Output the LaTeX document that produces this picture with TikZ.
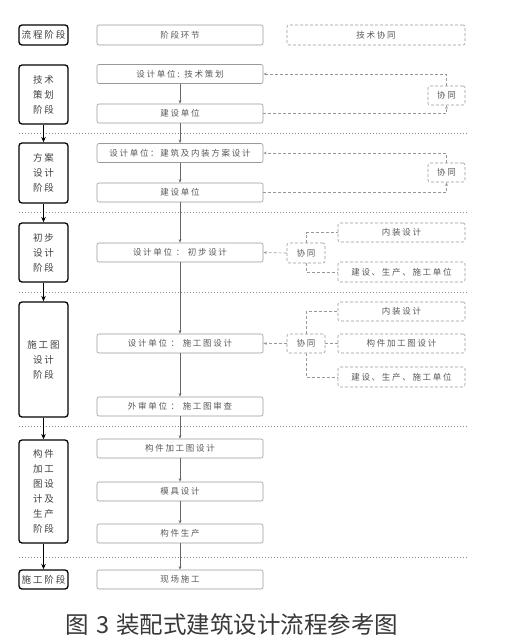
\documentclass[tikz,border=0pt]{standalone}
\usepackage{fontspec}
\newfontfamily\cjk[LetterSpace=20]{Noto Sans CJK SC}
\newfontfamily\cjkcap{Noto Sans CJK SC}
\usetikzlibrary{arrows.meta}
\begin{document}
\begin{tikzpicture}[x=1pt,y=-1pt,
  stagebox/.style={draw=black, line width=1.3pt, rounded corners=3pt, minimum width=49pt, inner sep=0pt, align=center, font=\cjk\fontsize{9.5}{15}\selectfont, text=black!75},
  midbox/.style={draw=black!40, line width=0.6pt, rounded corners=2pt, minimum width=166pt, minimum height=19pt, inner sep=0pt, font=\cjk\fontsize{8.5}{10}\selectfont, text=black!65},
  dbox/.style={midbox, dash pattern=on 3pt off 2pt, minimum width=127pt},
  flow/.style={-{Stealth[length=3.5pt,width=2.6pt]}, draw=black!60, line width=0.6pt},
  stagearrow/.style={-{Stealth[length=5.5pt,width=4.5pt]}, draw=black, line width=1.5pt},
  coop/.style={draw=black!40, line width=0.6pt, dash pattern=on 3pt off 2pt},
  cooparrow/.style={coop, -{Stealth[length=3.5pt,width=2.6pt]}},
  sepline/.style={draw=black!45, line width=0.8pt, dash pattern=on 1.2pt off 1.8pt}
]
\useasboundingbox[fill=white] (0,0) rectangle (521,640);

% header row
\node[stagebox, minimum height=20pt] (h1) at (43.5,35) {流程阶段};
\node[midbox, minimum height=20pt] (h2) at (180,35) {阶段环节};
\node[dbox, minimum width=178pt, minimum height=20pt] (h3) at (376,35) {技术协同};

% stage 1
\node[stagebox, minimum height=59pt] (L1) at (43.5,94.5) {技术\\策划\\阶段};
\node[midbox] (m1a) at (180,74) {设计单位: 技术策划};
\node[midbox] (m1b) at (180,113.5) {建设单位};
\node[dbox, minimum width=37pt] (c1) at (446.5,95.5) {协同};
\coordinate (c1t) at (446.5,74);
\coordinate (c1b) at (446.5,113.5);
\draw[cooparrow] (c1.north) -- (c1t) -- (m1a.east);
\draw[cooparrow] (m1b.east) -- (c1b) -- (c1.south);
\coordinate (s1a) at (19,133); \coordinate (s1b) at (467,133);
\draw[sepline] (s1a) -- (s1b);

% stage 2
\node[stagebox, minimum height=60pt] (L2) at (43.5,173) {方案\\设计\\阶段};
\node[midbox] (m2a) at (180,153) {设计单位：建筑及内装方案设计};
\node[midbox] (m2b) at (180,192.5) {建设单位};
\node[dbox, minimum width=37pt] (c2) at (446.5,172.5) {协同};
\coordinate (c2t) at (446.5,153);
\coordinate (c2b) at (446.5,192.5);
\draw[cooparrow] (c2.north) -- (c2t) -- (m2a.east);
\draw[cooparrow] (m2b.east) -- (c2b) -- (c2.south);
\coordinate (s2a) at (19,212); \coordinate (s2b) at (467,212);
\draw[sepline] (s2a) -- (s2b);

% stage 3
\node[stagebox, minimum height=59pt] (L3) at (43.5,252.5) {初步\\设计\\阶段};
\node[midbox] (m3) at (180,252.5) {设计单位 ： 初步设计};
\node[dbox, minimum width=38pt, minimum height=20pt] (c3) at (306,253) {协同};
\node[dbox] (r3a) at (401.5,232.5) {内装设计};
\node[dbox, minimum height=20pt] (r3b) at (401.5,272) {建设、生产、施工单位};
\draw[cooparrow] (c3.west) -- (m3.east);
\draw[coop] (c3.north) |- (r3a.west);
\draw[coop] (c3.south) |- (r3b.west);
\coordinate (s3a) at (19,292); \coordinate (s3b) at (467,292);
\draw[sepline] (s3a) -- (s3b);

% stage 4
\node[stagebox, minimum height=115pt] (L4) at (43.5,359.5) {施工图\\设计\\阶段};
\node[midbox] (m4a) at (180,343.5) {设计单位 ： 施工图设计};
\node[dbox, minimum width=38pt] (c4) at (306,343.5) {协同};
\node[dbox] (r4a) at (401.5,311.5) {内装设计};
\node[dbox] (r4b) at (401.5,343.5) {构件加工图设计};
\node[dbox, minimum height=20pt] (r4c) at (401.5,377) {建设、生产、施工单位};
\node[midbox] (m4b) at (180,406.5) {外审单位 ： 施工图审查};
\draw[cooparrow] (c4.west) -- (m4a.east);
\draw[coop] (c4.north) |- (r4a.west);
\draw[coop] (c4.east) -- (r4b.west);
\draw[coop] (c4.south) |- (r4c.west);
\coordinate (s4a) at (19,426); \coordinate (s4b) at (467,426);
\draw[sepline] (s4a) -- (s4b);

% stage 5
\node[stagebox, minimum height=103pt] (L5) at (43.5,491.5) {构件\\加工\\图设\\计及\\生产\\阶段};
\node[midbox] (m5a) at (180,448.5) {构件加工图设计};
\node[midbox] (m5b) at (180,491.5) {模具设计};
\node[midbox] (m5c) at (180,533.5) {构件生产};
\coordinate (s5a) at (19,557); \coordinate (s5b) at (467,557);
\draw[sepline] (s5a) -- (s5b);

% stage 6
\node[stagebox, minimum height=19pt] (L6) at (43.5,579.5) {施工阶段};
\node[midbox] (m6) at (180,579.5) {现场施工};

% flow arrows (middle column)
\draw[flow] (m1a) -- (m1b);
\draw[flow] (m1b) -- (m2a);
\draw[flow] (m2a) -- (m2b);
\draw[flow] (m2b) -- (m3);
\draw[flow] (m3) -- (m4a);
\draw[flow] (m4a) -- (m4b);
\draw[flow] (m4b) -- (m5a);
\draw[flow] (m5a) -- (m5b);
\draw[flow] (m5b) -- (m5c);
\draw[flow] (m5c) -- (m6);

% stage arrows (left column)
\draw[stagearrow] (L1) -- (L2);
\draw[stagearrow] (L2) -- (L3);
\draw[stagearrow] (L3) -- (L4);
\draw[stagearrow] (L4) -- (L5);
\draw[stagearrow] (L5) -- (L6);

% caption
\node[font=\cjkcap\fontsize{23.5}{25}\selectfont, text=black!78, inner sep=0pt] (cap) at (232,625) {图\hspace{7pt}3\hspace{7pt}装配式建筑设计流程参考图};
\end{tikzpicture}
\end{document}
